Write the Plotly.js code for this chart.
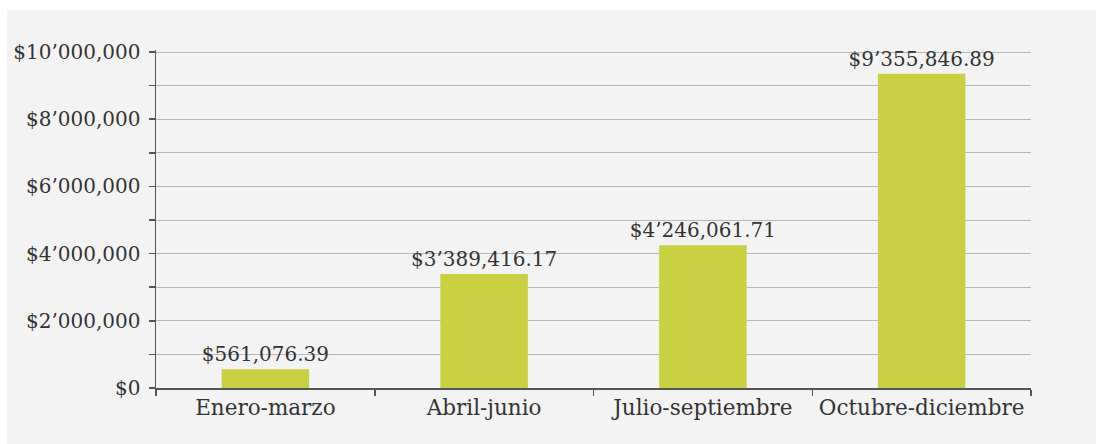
<!DOCTYPE html>
<html>
<head>
<meta charset="utf-8">
<script src="https://cdn.plot.ly/plotly-3.0.1.min.js"></script>
<style>
html,body{margin:0;padding:0;background:#ffffff;}
#chart{position:absolute;left:7px;top:10px;width:1089px;height:434px;}
</style>
</head>
<body>
<div id="chart"></div>
<script>
const categories = ["Enero-marzo", "Abril-junio", "Julio-septiembre", "Octubre-diciembre"];
const values = [561076.39, 3389416.17, 4246061.71, 9355846.89];
const valueLabels = ["$561,076.39", "$3\u2019389,416.17", "$4\u2019246,061.71", "$9\u2019355,846.89"];
const yTickVals = [0, 2000000, 4000000, 6000000, 8000000, 10000000];
const yTickText = ["$0", "$2\u2019000,000", "$4\u2019000,000", "$6\u2019000,000", "$8\u2019000,000", "$10\u2019000,000"];

const fontFam = "DejaVu Serif, serif";
const trace = {
  type: "bar",
  x: categories,
  y: values,
  text: valueLabels,
  textposition: "outside",
  constraintext: "none",
  cliponaxis: false,
  textfont: {family: fontFam, size: 20, color: "#333333"},
  marker: {color: "#c9d142"},
  hoverinfo: "x+y"
};
const layout = {
  width: 1089, height: 434,
  margin: {l: 149, r: 65, t: 40, b: 56},
  paper_bgcolor: "#f3f3f3",
  plot_bgcolor: "#f3f3f3",
  bargap: 0.6,
  showlegend: false,
  font: {family: fontFam, size: 20, color: "#333333"},
  xaxis: {
    type: "category",
    showline: true, linecolor: "#555555", linewidth: 1.5,
    ticks: "outside", tickson: "boundaries", ticklen: 6, tickcolor: "#555555", tickwidth: 1.5,
    showgrid: false,
    tickfont: {family: fontFam, size: 21.5, color: "#333333"}
  },
  yaxis: {
    range: [0, 10060000],
    tickvals: yTickVals, ticktext: yTickText,
    showline: true, linecolor: "#555555", linewidth: 1.5,
    ticks: "outside", ticklen: 6, tickcolor: "#555555", tickwidth: 1.5,
    showgrid: true, gridcolor: "#b8b8b8", gridwidth: 1,
    zeroline: false,
    ticklabelstandoff: 4,
    minor: {dtick: 1000000, tick0: 0, ticks: "outside", ticklen: 6, tickcolor: "#555555", tickwidth: 1.5, showgrid: true, gridcolor: "#b8b8b8", gridwidth: 1},
    tickfont: {family: fontFam, size: 20, color: "#333333"}
  }
};
Plotly.newPlot("chart", [trace], layout, {displayModeBar: false, staticPlot: true});
</script>
</body>
</html>
